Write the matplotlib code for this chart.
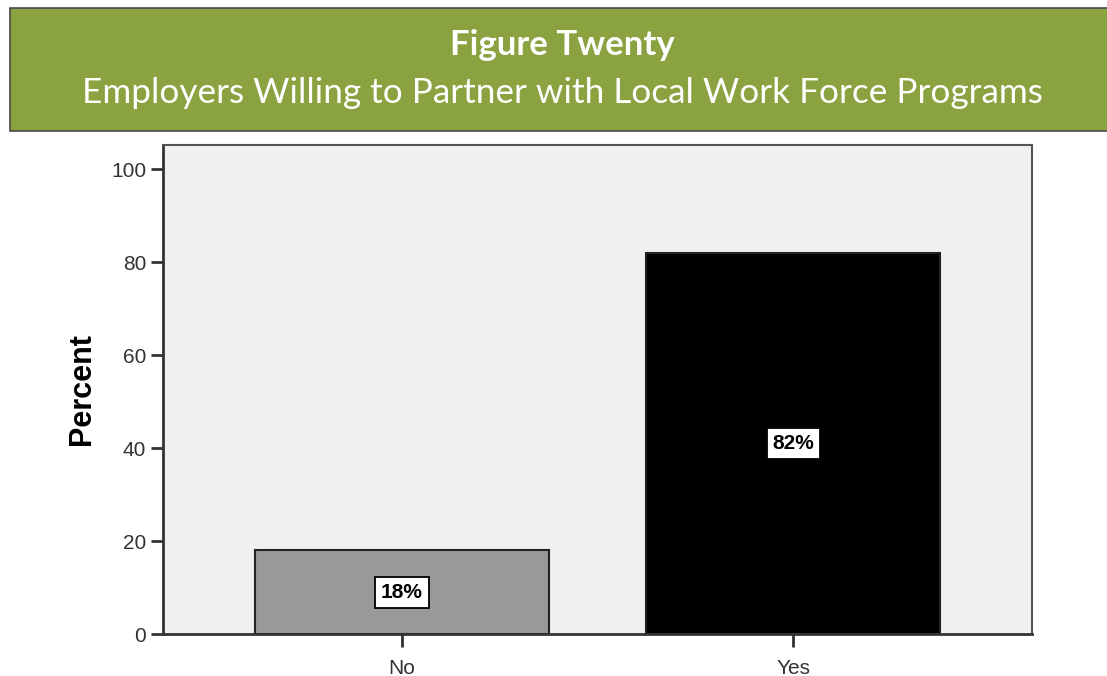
import matplotlib.pyplot as plt
from matplotlib.patches import Rectangle

# ── данные ────────────────────────────────────────────────────────────────
categories = ['No', 'Yes']
percent    = [18, 82]
bar_colors = ['#999999', '#000000']
yticks     = [0, 20, 40, 60, 80, 100]

title_main = 'Figure Twenty'
title_sub  = 'Employers Willing to Partner with Local Work Force Programs'

# ── фигура ────────────────────────────────────────────────────────────────
fig = plt.figure(figsize=(11.07, 6.76), dpi=100)
fig.patch.set_facecolor('white')

# зелёная шапка
fig.patches.append(Rectangle((0.009, 0.806), 1.0, 0.182,
                             transform=fig.transFigure,
                             facecolor='#8aa23f', edgecolor='#4a4a4a',
                             lw=1.2, zorder=0))
fig.text(0.508, 0.934, title_main, ha='center', va='center',
         color='white', fontsize=25, fontweight='bold', family='Lato')
fig.text(0.508, 0.862, title_sub, ha='center', va='center',
         color='white', fontsize=25.3, fontweight='normal', family='Lato')

# ── график ────────────────────────────────────────────────────────────────
ax = fig.add_axes([0.1472, 0.0621, 0.7851, 0.7234])
ax.set_facecolor('#f0f0f0')

x = range(len(categories))
ax.bar(x, percent, width=0.75, color=bar_colors,
       edgecolor='#222222', linewidth=1.5, zorder=2)

for xi, v in zip(x, percent):
    ax.text(xi, v / 2, f'{v}%', ha='center', va='center',
            fontsize=15, fontweight='bold', family='Liberation Sans',
            color='black', zorder=3,
            bbox=dict(boxstyle='square,pad=0.28', facecolor='white',
                      edgecolor='black', lw=1.3))

ax.set_xlim(-0.61, 1.61)
ax.set_ylim(0, 105.2)
ax.set_yticks(yticks)
ax.set_xticks(list(x))
ax.set_xticklabels(categories)

ax.set_ylabel('Percent', fontsize=22, fontweight='bold',
              family='Liberation Sans', labelpad=10)

for lab in ax.get_xticklabels() + ax.get_yticklabels():
    lab.set_family('Liberation Sans')
    lab.set_fontsize(15)
    lab.set_color('#333333')

ax.tick_params(axis='y', length=9, width=2, color='#333333', pad=3)
ax.tick_params(axis='x', length=9, width=2, color='#333333', pad=9)

for side in ['left', 'bottom']:
    ax.spines[side].set_linewidth(2)
    ax.spines[side].set_color('#333333')
for side in ['top', 'right']:
    ax.spines[side].set_linewidth(1.5)
    ax.spines[side].set_color('#555555')

plt.savefig('out.png', dpi=100)
